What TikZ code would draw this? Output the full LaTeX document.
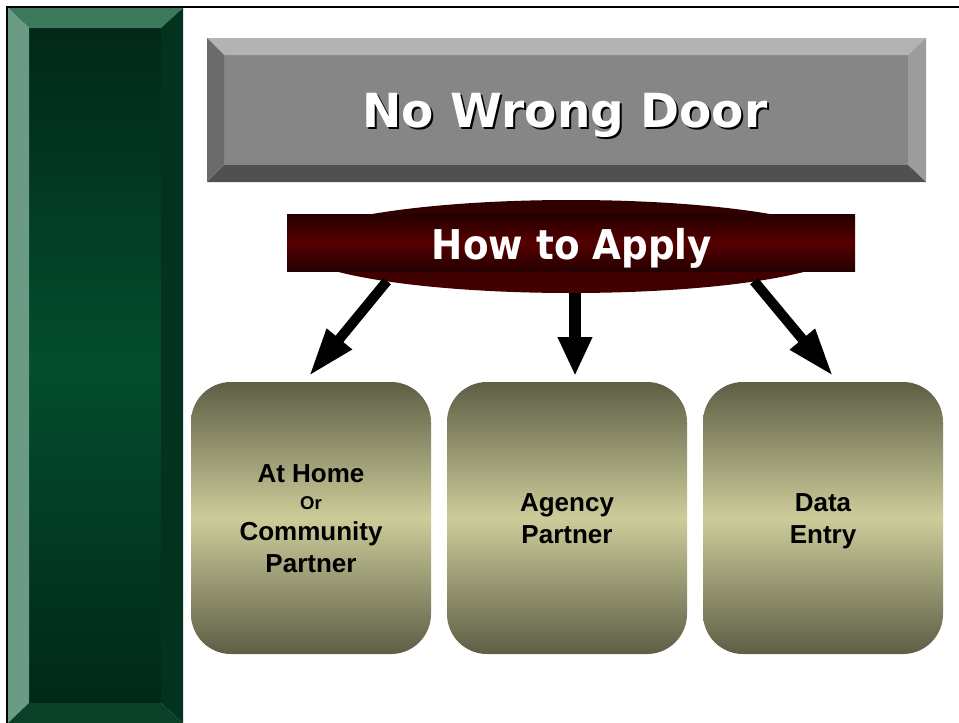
\documentclass[tikz,border=0pt]{standalone}
\usepackage{fontspec}
\usepackage{graphicx}
\usetikzlibrary{arrows.meta,shapes.geometric}
\newfontfamily\dvsans{DejaVu Sans}
\newfontfamily\arialb{Liberation Sans}
\definecolor{gtop}{HTML}{3A7A5A}
\definecolor{gleft}{HTML}{6B9A85}
\definecolor{gright}{HTML}{03331F}
\definecolor{gbot}{HTML}{0A4028}
\definecolor{ginA}{HTML}{012818}
\definecolor{ginB}{HTML}{034D2E}
\definecolor{ttop}{HTML}{B3B3B3}
\definecolor{tleft}{HTML}{6B6B6B}
\definecolor{tright}{HTML}{9C9C9C}
\definecolor{tbot}{HTML}{505050}
\definecolor{tmid}{HTML}{868686}
\definecolor{mdark}{HTML}{250000}
\definecolor{mmid}{HTML}{560000}
\definecolor{etop}{HTML}{2E0000}
\definecolor{ebot}{HTML}{440000}
\definecolor{odark}{HTML}{5E5E46}
\definecolor{olight}{HTML}{CCCC9A}
\newcommand{\shadowed}[1]{\makebox[0pt][l]{\hspace{2pt}\raisebox{-2.5pt}{\color{black}#1}}#1}
\tikzset{
  boxnode/.style={rectangle, rounded corners=40pt, minimum width=240pt, minimum height=272pt,
    inner sep=0pt, top color=odark, bottom color=odark, middle color=olight},
  boxtext/.style={anchor=base, text=black, inner sep=0pt, font=\arialb\bfseries\fontsize{26}{30}\selectfont},
  smalltext/.style={anchor=base, text=black, inner sep=0pt, font=\arialb\bfseries\fontsize{18.5}{22}\selectfont},
  arrdiag/.style={line width=10pt, -{Triangle[length=48pt,width=30pt]}},
  arrmid/.style={line width=12pt, -{Triangle[length=39pt,width=32pt]}},
}
\begin{document}
\begin{tikzpicture}[x=1pt,y=-1pt]
\useasboundingbox (0,0) rectangle (959,723);
\fill[white] (0,0) rectangle (959,723);
% left green bevelled panel
\fill[top color=ginA, bottom color=ginA, middle color=ginB] (29,28) rectangle (161,703);
\fill[gtop] (8,8) -- (183,8) -- (161,28) -- (29,28) -- cycle;
\fill[gleft] (8,8) -- (29,28) -- (29,703) -- (8,723) -- cycle;
\fill[gright] (183,8) -- (183,723) -- (161,703) -- (161,28) -- cycle;
\fill[gbot] (8,723) -- (29,703) -- (161,703) -- (183,723) -- cycle;
% frame
\draw[line width=2pt] (7,723) -- (7,7) -- (959,7);
% title bevelled box
\fill[tmid] (224,55) rectangle (908,165);
\fill[ttop] (207,38) -- (926,38) -- (908,55) -- (224,55) -- cycle;
\fill[tleft] (207,38) -- (224,55) -- (224,165) -- (207,182) -- cycle;
\fill[tright] (926,38) -- (926,182) -- (908,165) -- (908,55) -- cycle;
\fill[tbot] (207,182) -- (224,165) -- (908,165) -- (926,182) -- cycle;
\node[anchor=base, inner sep=0pt, text=white, font=\dvsans\bfseries\fontsize{47}{50}\selectfont] (title) at (565,127) {\shadowed{No Wrong Door}};
% How to Apply
\node[ellipse, minimum width=556pt, minimum height=93pt, inner sep=0pt, top color=etop, bottom color=ebot] (applyell) at (571,246.5) {};
\node[rectangle, minimum width=568pt, minimum height=57pt, inner sep=0pt, top color=mdark, bottom color=mdark, middle color=mmid] (apply) at (571,242.5) {};
\node[anchor=base, inner sep=0pt, text=white] (applytext) at (572,259) {\scalebox{0.91}[1]{\dvsans\bfseries\fontsize{41}{44}\selectfont How to Apply}};
% boxes
\node[boxnode] (box1) at (311,518) {};
\node[boxnode] (box2) at (567,518) {};
\node[boxnode] (box3) at (823,518) {};
\node[boxtext] (b1a) at (311,482) {At Home};
\node[smalltext] (b1b) at (311,509) {Or};
\node[boxtext] (b1c) at (311,540) {Community};
\node[boxtext] (b1d) at (311,572) {Partner};
\node[boxtext] (b2a) at (567,511) {Agency};
\node[boxtext] (b2b) at (567,543) {Partner};
\node[boxtext] (b3a) at (823,511) {Data};
\node[boxtext] (b3b) at (823,543) {Entry};
% arrows
\coordinate (s1) at (387,281);
\coordinate (e1) at (309,376);
\coordinate (s2) at (575,293);
\coordinate (e2) at (575,376);
\coordinate (s3) at (754,281);
\coordinate (e3) at (833,376);
\draw[arrdiag] (s1) -- (e1);
\draw[arrmid] (s2) -- (e2);
\draw[arrdiag] (s3) -- (e3);
\end{tikzpicture}
\end{document}
